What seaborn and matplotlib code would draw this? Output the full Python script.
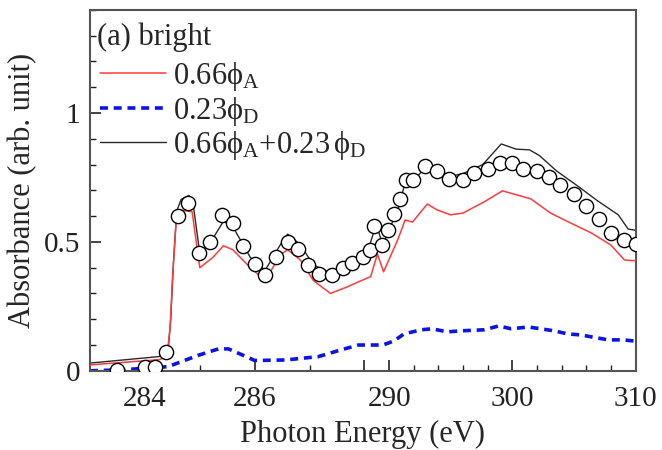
import numpy as np
import pandas as pd
import matplotlib
matplotlib.use("Agg")
import matplotlib.pyplot as plt
import seaborn as sns

# ---- data ----
red_x = [283.0, 283.5, 284.25, 284.4, 284.46, 284.5, 284.57, 284.64, 284.86, 285.0, 285.24, 285.43,
         285.6, 285.92, 286.19, 286.47, 286.6, 286.83, 287.07, 287.38, 287.69, 288.24, 288.5, 289.05,
         289.55, 290.7, 291.3, 291.9, 293.1, 293.9, 295.0, 296.0, 297.7, 299.2, 300.4, 301.5, 303.1,
         304.7, 306.4, 308.0, 309.1, 310.0]
red_y = [0.023, 0.031, 0.043, 0.054, 0.17, 0.35, 0.585, 0.624, 0.617, 0.40, 0.44, 0.485,
         0.47, 0.40, 0.35, 0.45, 0.47, 0.43, 0.35, 0.30, 0.326, 0.36, 0.365, 0.453,
         0.384, 0.508, 0.585, 0.577, 0.647, 0.624, 0.605, 0.612, 0.655, 0.698, 0.682, 0.667, 0.612,
         0.574, 0.535, 0.488, 0.43, 0.427]

blue_x = [283.0, 283.6, 284.42, 284.97, 285.34, 285.52, 285.77, 286.0, 286.56, 287.16, 287.52, 287.89,
          288.5, 289.5, 290.4, 291.2, 292.6, 293.5, 294.7, 295.8, 297.7, 298.9, 299.9, 301.3, 302.3,
          303.4, 304.5, 305.6, 306.6, 307.8, 309.0, 310.0]
blue_y = [0.0, 0.004, 0.016, 0.06, 0.085, 0.085, 0.062, 0.04, 0.042, 0.055, 0.078, 0.10,
          0.10, 0.10, 0.116, 0.143, 0.159, 0.163, 0.151, 0.155, 0.159, 0.174, 0.163, 0.17, 0.163,
          0.155, 0.143, 0.139, 0.13, 0.12, 0.12, 0.115]

sum_x = [283.0, 284.25, 284.42, 284.47, 284.52, 284.58, 284.66, 284.8, 284.87, 285.0, 285.2, 285.43,
         285.6, 285.92, 286.19, 286.47, 286.6, 286.83, 287.07, 287.38, 287.69, 288.0, 288.24, 288.9,
         289.05, 289.5, 290.0, 290.7, 291.3, 291.9, 293.1, 293.9, 295.0, 296.0, 297.6, 299.1, 300.3,
         301.4, 302.2, 303.6, 305.3, 306.9, 308.6, 309.4, 310.0]
sum_y = [0.03, 0.055, 0.07, 0.2, 0.42, 0.62, 0.665, 0.68, 0.66, 0.455, 0.5, 0.58,
         0.56, 0.44, 0.39, 0.49, 0.53, 0.49, 0.41, 0.38, 0.41, 0.43, 0.46, 0.56,
         0.555, 0.485, 0.55, 0.62, 0.73, 0.73, 0.80, 0.78, 0.755, 0.765, 0.80, 0.88, 0.86,
         0.857, 0.835, 0.775, 0.717, 0.66, 0.605, 0.55, 0.545]

exp_x = [283.49, 284.0, 284.19, 284.39, 284.61, 284.79, 284.99, 285.18, 285.41, 285.61, 285.79, 286.0,
         286.19, 286.38, 286.6, 286.78, 286.98, 287.18, 287.4, 287.6, 287.78, 287.98, 288.45, 288.78,
         289.46, 289.9, 290.36, 290.9, 291.35, 291.9, 292.9, 293.9, 294.9, 296.0, 296.9, 298.0, 299.0,
         300.0, 300.9, 302.0, 303.0, 303.9, 305.0, 306.0, 307.0, 308.0, 309.1, 310.0]
exp_y = [0.004, 0.016, 0.016, 0.074, 0.60, 0.65, 0.457, 0.50, 0.605, 0.573, 0.485, 0.415,
         0.372, 0.44, 0.50, 0.474, 0.41, 0.374, 0.372, 0.40, 0.42, 0.44, 0.47, 0.56,
         0.487, 0.547, 0.61, 0.668, 0.74, 0.74, 0.795, 0.775, 0.744, 0.74, 0.767, 0.783, 0.808,
         0.806, 0.783, 0.775, 0.752, 0.72, 0.686, 0.64, 0.59, 0.535, 0.508, 0.492]

labels = [r"0.66$\mathrm{ϕ}_{\mathrm{A}}$", r"0.23$\mathrm{ϕ}_{\mathrm{D}}$",
          r"0.66$\mathrm{ϕ}_{\mathrm{A}}$+0.23$\,\mathrm{ϕ}_{\mathrm{D}}$"]
x_major = [284, 286, 288, 290, 300, 310]
x_major_labels = ["284", "286", "", "290", "300", "310"]
x_minor = [285, 287, 292, 294, 296, 298, 302, 304, 306, 308]

# ---- style ----
sns.set_style("ticks")
plt.rcParams["font.family"] = ["Liberation Serif", "DejaVu Serif"]
plt.rcParams["mathtext.fontset"] = "custom"
plt.rcParams["mathtext.rm"] = "Liberation Serif"
plt.rcParams["mathtext.it"] = "Liberation Serif:italic"
plt.rcParams["mathtext.bf"] = "Liberation Serif:bold"

fig = plt.figure(figsize=(6.62, 4.50), dpi=100)
ax = fig.add_axes([0.136, 0.176, 0.824, 0.802])

K1, K2 = 4.455, 1.0
def fwd(x):
    x = np.asarray(x, dtype=float)
    return np.where(x <= 288, (x - 283) * K1, 5 * K1 + (x - 288) * K2)
def inv(y):
    y = np.asarray(y, dtype=float)
    return np.where(y <= 5 * K1, 283 + y / K1, 288 + (y - 5 * K1) / K2)
ax.set_xscale("function", functions=(fwd, inv))

sns.lineplot(x=red_x, y=red_y, ax=ax, color="#ff3b3b", lw=1.1, label=labels[0], sort=False, zorder=3)
sns.lineplot(x=blue_x, y=blue_y, ax=ax, color="#0a14e6", lw=2.6, label=labels[1], sort=False)
sns.lineplot(x=sum_x, y=sum_y, ax=ax, color="#2a2a2a", lw=1.0, label=labels[2], sort=False, zorder=2)
ax.lines[1].set_dashes([2.2, 1.6])
sns.scatterplot(x=exp_x, y=exp_y, ax=ax, marker="o", s=105, facecolor="white",
                edgecolor="black", linewidth=1.0, zorder=5, legend=False)

ax.set_xlim(283, 310)
ax.set_ylim(0, 1.4)
ax.set_xticks(x_major)
ax.set_xticklabels(x_major_labels)
ax.set_xticks(x_minor, minor=True)
ax.set_yticks([0, 0.5, 1])
ax.set_yticklabels(["0", "0.5", "1"])
ax.set_yticks(np.arange(0, 1.41, 0.1), minor=True)
ax.tick_params(which="both", direction="in", labelsize=21, colors="#222222")
ax.tick_params(which="major", length=8, width=1.2)
ax.tick_params(which="minor", length=4, width=1.0)
ax.tick_params(axis="x", pad=11)
ax.tick_params(axis="y", pad=7)
for s in ax.spines.values():
    s.set_color("#555555")
    s.set_linewidth(1.5)

ax.set_xlabel("Photon Energy (eV)", fontsize=22, labelpad=6)
ax.set_ylabel("Absorbance (arb. unit)", fontsize=22, labelpad=5)

ax.text(0.012, 0.925, "(a) bright", transform=ax.transAxes, fontsize=22, va="center", ha="left")
leg = ax.legend(loc="upper left", bbox_to_anchor=(-0.004, 0.895), frameon=False, fontsize=22,
                handlelength=2.15, handletextpad=0.25, labelspacing=0.05, borderaxespad=0.0)

fig.savefig("out.png", dpi=100)
